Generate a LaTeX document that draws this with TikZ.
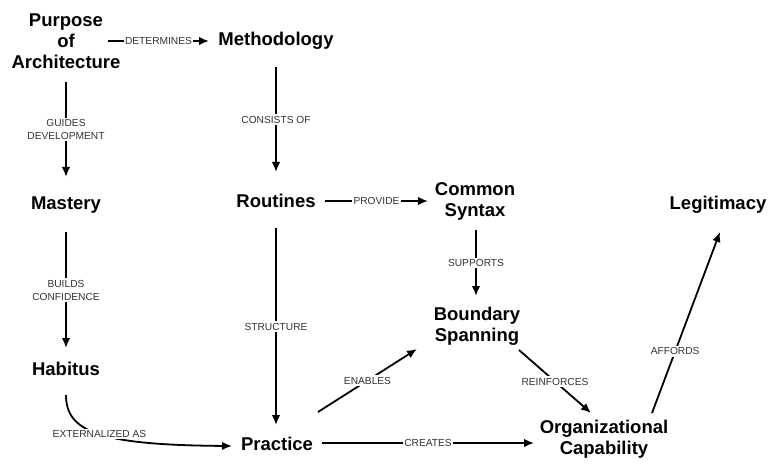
\documentclass[tikz,border=0pt]{standalone}
\usepackage{fontspec}
\setmainfont{Liberation Sans}
\usetikzlibrary{arrows.meta,calc}
\begin{document}
\begin{tikzpicture}[x=1pt,y=-1pt,
  concept/.style={font=\fontsize{18.5}{21}\selectfont\bfseries, align=center, inner sep=0pt, text=black},
  rel/.style={font=\fontsize{10.2}{13}\selectfont, align=center, fill=white, inner sep=1.5pt, text=black!80},
  link/.style={line width=1.8pt, -{Latex[length=10pt,width=8.5pt]}}]
\useasboundingbox (0,0) rectangle (768,465);

% concepts
\node[concept] (pa)   at (66,41)   {Purpose\\of\\Architecture};
\node[concept] (meth) at (276,41)  {Methodology};
\node[concept] (mast) at (66,205)  {Mastery};
\node[concept] (rout) at (276,201) {Routines};
\node[concept] (cs)   at (475,201) {Common\\Syntax};
\node[concept] (leg)  at (718,205) {Legitimacy};
\node[concept] (bs)   at (477,326) {Boundary\\Spanning};
\node[concept] (hab)  at (66,369)  {Habitus};
\node[concept] (prac) at (277,444) {Practice};
\node[concept] (oc)   at (604,439) {Organizational\\Capability};

% relations
\draw[link] ($(pa)+(42,0)$) -- ($(meth)+(-67,0)$) node[rel,midway] {DETERMINES};
\draw[link] ($(pa)+(0,41)$) -- ($(mast)+(0,-28)$) node[rel,midway] {GUIDES\\DEVELOPMENT};
\draw[link] ($(meth)+(0,26)$) -- ($(rout)+(0,-29)$) node[rel,midway] {CONSISTS OF};
\draw[link] ($(mast)+(0,27)$) -- ($(hab)+(0,-21)$) node[rel,midway] {BUILDS\\CONFIDENCE};
\draw[link] ($(rout)+(49,0)$) -- ($(cs)+(-47,0)$) node[rel,midway] {PROVIDE};
\draw[link] ($(rout)+(0,27)$) -- ($(prac)+(-1,-19)$) node[rel,midway] {STRUCTURE};
\draw[link] ($(cs)+(1,29)$) -- ($(bs)+(-1,-30)$) node[rel,midway] {SUPPORTS};
\draw[link] ($(bs)+(42,24)$) -- ($(oc)+(-13,-26)$) node[rel,midway] {REINFORCES};
\draw[link] ($(prac)+(41,-32)$) -- ($(bs)+(-60,23)$) node[rel,midway] {ENABLES};
\draw[link] ($(prac)+(45,-1)$) -- ($(oc)+(-70,4)$) node[rel,midway] {CREATES};
\draw[link] ($(oc)+(48,-26)$) -- ($(leg)+(2,27)$) node[rel,pos=0.34] {AFFORDS};
\draw[link] ($(hab)+(0,26)$) .. controls (66,432) and (100,445) .. ($(prac)+(-45,2)$)
  node[rel,pos=0.5] {EXTERNALIZED AS};
\end{tikzpicture}
\end{document}
